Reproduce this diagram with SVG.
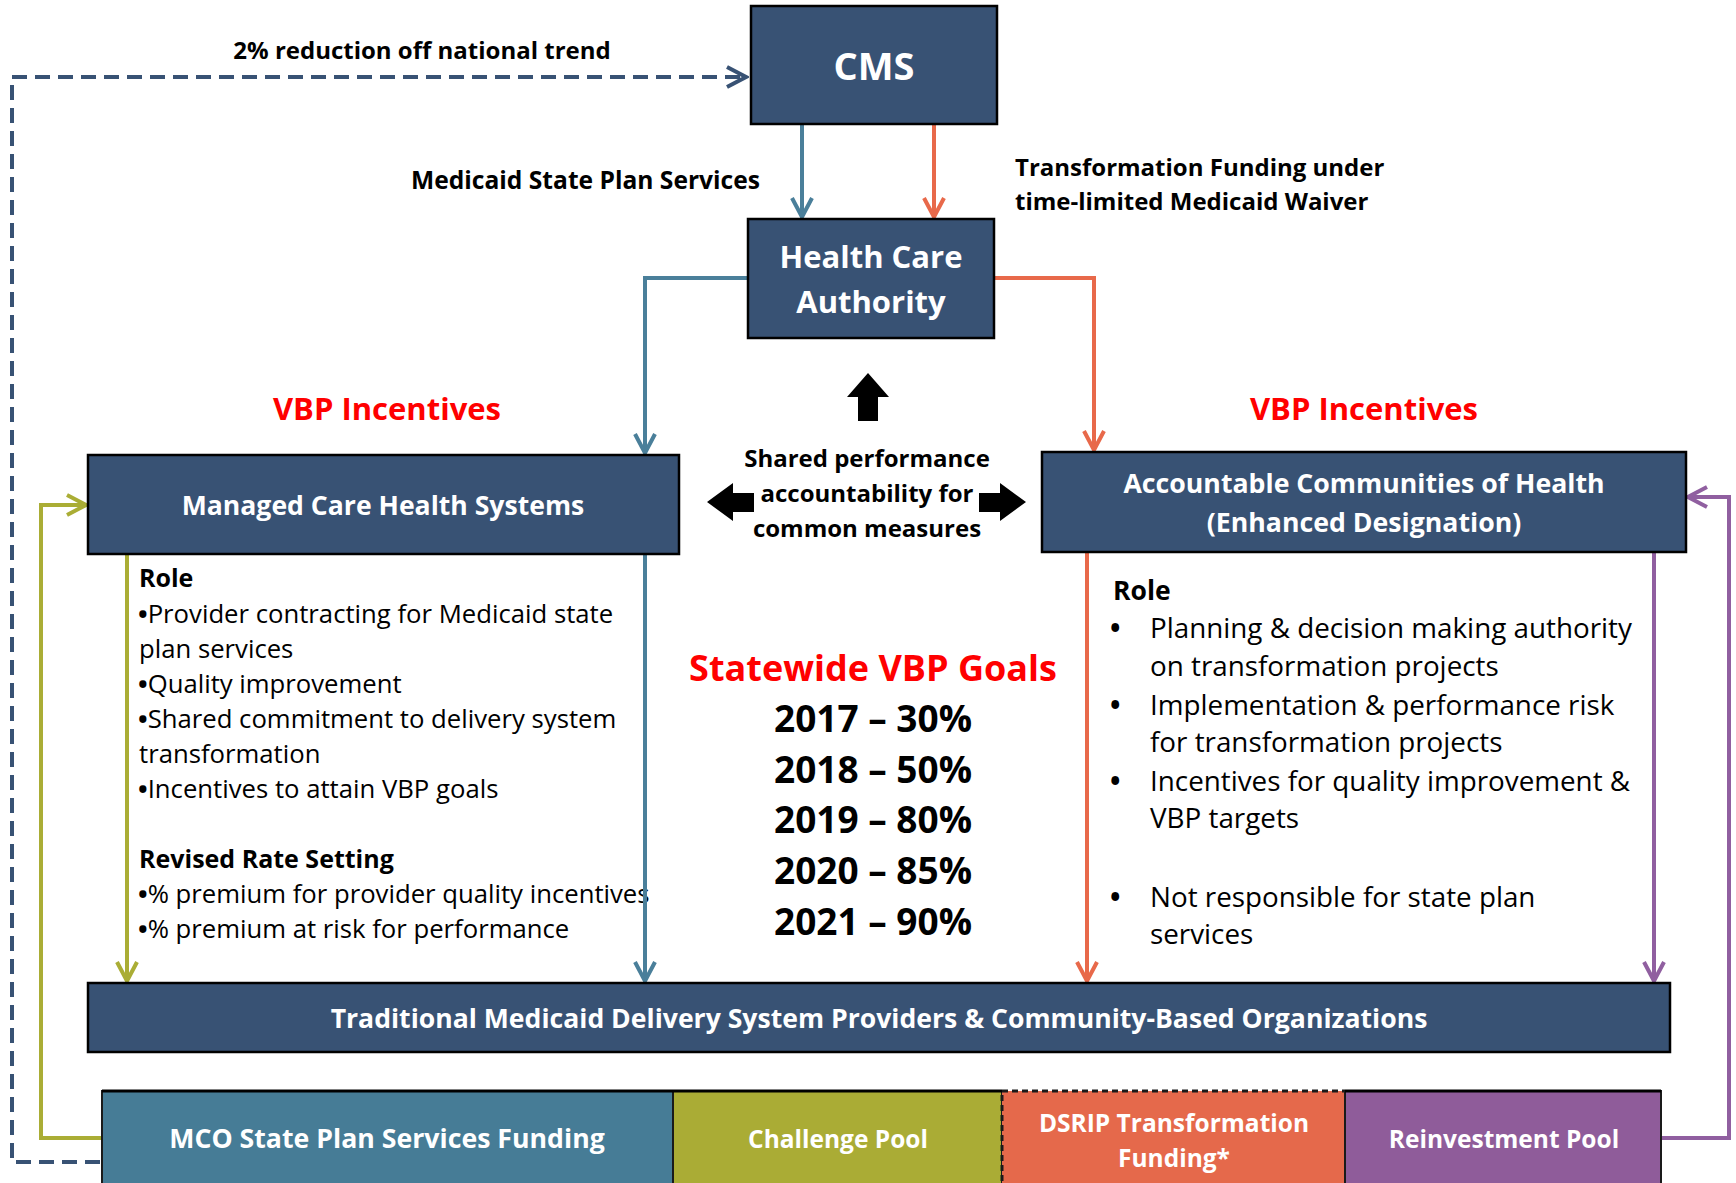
<svg xmlns="http://www.w3.org/2000/svg" width="1736" height="1183" viewBox="0 0 1736 1183">
<style>
.box{fill:#385274;stroke:#000;stroke-width:2.5}
.wt{fill:#fff;font-family:"Open Sans","Liberation Sans",sans-serif;font-weight:700;text-anchor:middle}
.bk{fill:#000;font-family:"Open Sans","Liberation Sans",sans-serif;font-weight:700}
.rg{fill:#000;font-family:"Open Sans","Liberation Sans",sans-serif;font-weight:400;font-size:25.7px}
.bu{font-weight:700}
.red{fill:#ff0000;font-family:"Open Sans","Liberation Sans",sans-serif;font-weight:700;text-anchor:middle}
.ln{fill:none;stroke-width:4;stroke-linejoin:miter}
</style>
<defs>
<marker id="aBlue" markerUnits="userSpaceOnUse" markerWidth="26" markerHeight="26" viewBox="0 0 26 26" refX="23" refY="13" orient="auto"><path d="M4,3 L23,13 L4,23" fill="none" stroke="#4a7f9a" stroke-width="4"/></marker>
<marker id="aOr" markerUnits="userSpaceOnUse" markerWidth="26" markerHeight="26" viewBox="0 0 26 26" refX="23" refY="13" orient="auto"><path d="M4,3 L23,13 L4,23" fill="none" stroke="#e8694a" stroke-width="4"/></marker>
<marker id="aOl" markerUnits="userSpaceOnUse" markerWidth="26" markerHeight="26" viewBox="0 0 26 26" refX="23" refY="13" orient="auto"><path d="M4,3 L23,13 L4,23" fill="none" stroke="#aaad35" stroke-width="4"/></marker>
<marker id="aPu" markerUnits="userSpaceOnUse" markerWidth="26" markerHeight="26" viewBox="0 0 26 26" refX="23" refY="13" orient="auto"><path d="M4,3 L23,13 L4,23" fill="none" stroke="#905fa0" stroke-width="4"/></marker>
<marker id="aDk" markerUnits="userSpaceOnUse" markerWidth="26" markerHeight="26" viewBox="0 0 26 26" refX="23" refY="13" orient="auto"><path d="M4,3 L23,13 L4,23" fill="none" stroke="#385274" stroke-width="4"/></marker>
</defs>
<rect width="1736" height="1183" fill="#fff"/>

<g id="connectors">
<path class="ln" d="M100,1162 H12 V77 H746" stroke="#385274" stroke-dasharray="15,8" marker-end="url(#aDk)"/>
<path class="ln" d="M802,124 V217" stroke="#4a7f9a" marker-end="url(#aBlue)"/>
<path class="ln" d="M934,124 V217" stroke="#e8694a" marker-end="url(#aOr)"/>
<path class="ln" d="M748,278 H645 V453" stroke="#4a7f9a" marker-end="url(#aBlue)"/>
<path class="ln" d="M994,278 H1094 V450" stroke="#e8694a" marker-end="url(#aOr)"/>
<path class="ln" d="M127,554 V981" stroke="#aaad35" marker-end="url(#aOl)"/>
<path class="ln" d="M1087,552 V981" stroke="#e8694a" marker-end="url(#aOr)"/>
<path class="ln" d="M1654,552 V981" stroke="#905fa0" marker-end="url(#aPu)"/>
<path class="ln" d="M102,1138 H41 V505 H86" stroke="#aaad35" marker-end="url(#aOl)"/>
<path class="ln" d="M1661,1138 H1729 V497 H1688" stroke="#905fa0" marker-end="url(#aPu)"/>
<polygon points="868,373 889,397 878,397 878,421 858,421 858,397 847,397" fill="#000"/>
<polygon points="707,502 733,483 733,493 754,493 754,512 733,512 733,521" fill="#000"/>
<polygon points="1026,502 1000,483 1000,493 979,493 979,512 1000,512 1000,521" fill="#000"/>
</g>

<g id="labels">
<text class="bk" x="422" y="59" font-size="24" text-anchor="middle">2% reduction off national trend</text>
<text class="bk" x="760" y="189" font-size="24.6" text-anchor="end">Medicaid State Plan Services</text>
<text class="bk" x="1015" y="176" font-size="24">Transformation Funding under</text>
<text class="bk" x="1015" y="210" font-size="24">time-limited Medicaid Waiver</text>
<text class="red" x="387" y="420" font-size="31">VBP Incentives</text>
<text class="red" x="1364" y="420" font-size="31">VBP Incentives</text>
<text class="bk" x="867" y="467" font-size="24" text-anchor="middle">Shared performance</text>
<text class="bk" x="867" y="502" font-size="24" text-anchor="middle">accountability for</text>
<text class="bk" x="867" y="537" font-size="24" text-anchor="middle">common measures</text>
</g>

<g id="goals">
<text class="red" x="873" y="681" font-size="36">Statewide VBP Goals</text>
<text class="bk" x="873" y="732" font-size="37" text-anchor="middle">2017 – 30%</text>
<text class="bk" x="873" y="783" font-size="37" text-anchor="middle">2018 – 50%</text>
<text class="bk" x="873" y="833" font-size="37" text-anchor="middle">2019 – 80%</text>
<text class="bk" x="873" y="884" font-size="37" text-anchor="middle">2020 – 85%</text>
<text class="bk" x="873" y="935" font-size="37" text-anchor="middle">2021 – 90%</text>
</g>

<g id="mchs-role">
<text class="bk" x="139" y="587" font-size="25">Role</text>
<text class="rg" x="138" y="623"><tspan class="bu">•</tspan>Provider contracting for Medicaid state</text>
<text class="rg" x="139" y="658">plan services</text>
<text class="rg" x="138" y="693"><tspan class="bu">•</tspan>Quality improvement</text>
<text class="rg" x="138" y="728"><tspan class="bu">•</tspan>Shared commitment to delivery system</text>
<text class="rg" x="139" y="763">transformation</text>
<text class="rg" x="138" y="798"><tspan class="bu">•</tspan>Incentives to attain VBP goals</text>
<text class="bk" x="139" y="868" font-size="25">Revised Rate Setting</text>
<text class="rg" x="138" y="903"><tspan class="bu">•</tspan>% premium for provider quality incentives</text>
<text class="rg" x="138" y="938"><tspan class="bu">•</tspan>% premium at risk for performance</text>
</g>

<g id="ach-role" font-family="'Open Sans','Liberation Sans',sans-serif" font-size="27.8">
<text class="bk" x="1113" y="600" font-size="26.5">Role</text>
<g fill="#000">
<text x="1110" y="638" font-weight="700">•</text>
<text x="1150" y="638">Planning &amp; decision making authority</text>
<text x="1150" y="676">on transformation projects</text>
<text x="1110" y="715" font-weight="700">•</text>
<text x="1150" y="715">Implementation &amp; performance risk</text>
<text x="1150" y="752">for transformation projects</text>
<text x="1110" y="791" font-weight="700">•</text>
<text x="1150" y="791">Incentives for quality improvement &amp;</text>
<text x="1150" y="828">VBP targets</text>
<text x="1110" y="907" font-weight="700">•</text>
<text x="1150" y="907">Not responsible for state plan</text>
<text x="1150" y="944">services</text>
</g>
</g>

<path class="ln" d="M645,554 V981" stroke="#4a7f9a" marker-end="url(#aBlue)"/>

<g id="cms">
<rect class="box" x="751" y="6" width="246" height="118"/>
<text class="wt" x="874" y="80" font-size="38">CMS</text>
</g>
<g id="hca">
<rect class="box" x="748" y="219" width="246" height="119"/>
<text class="wt" x="871" y="268" font-size="31">Health Care</text>
<text class="wt" x="871" y="313" font-size="31">Authority</text>
</g>
<g id="mchs">
<rect class="box" x="88" y="455" width="591" height="99"/>
<text class="wt" x="383" y="515" font-size="26.6">Managed Care Health Systems</text>
</g>
<g id="ach">
<rect class="box" x="1042" y="452" width="644" height="100"/>
<text class="wt" x="1364" y="493" font-size="26.7">Accountable Communities of Health</text>
<text class="wt" x="1364" y="532" font-size="26.7">(Enhanced Designation)</text>
</g>
<g id="tmds">
<rect class="box" x="88" y="983" width="1582" height="69"/>
<text class="wt" x="879" y="1028" font-size="26.6">Traditional Medicaid Delivery System Providers &amp; Community-Based Organizations</text>
</g>

<g id="mco">
<rect x="102" y="1091" width="571" height="100" fill="#467c96" stroke="#1a1a1a" stroke-width="2"/>
<text class="wt" x="387" y="1148" font-size="26.7">MCO State Plan Services Funding</text>
</g>
<g id="challenge">
<rect x="673" y="1091" width="329" height="100" fill="#aaac35" stroke="#1a1a1a" stroke-width="2"/>
<text class="wt" x="838" y="1148" font-size="24.5">Challenge Pool</text>
</g>
<g id="dsrip">
<rect x="1002" y="1091" width="343" height="100" fill="#e5694b"/>
<path d="M1002,1191 V1091 H1345" fill="none" stroke="#1a1a1a" stroke-width="3" stroke-dasharray="6,4"/>
<text class="wt" x="1174" y="1132" font-size="24.5">DSRIP Transformation</text>
<text class="wt" x="1174" y="1167" font-size="24.5">Funding*</text>
</g>
<g id="reinvest">
<rect x="1345" y="1091" width="316" height="100" fill="#8f5c9a" stroke="#1a1a1a" stroke-width="2"/>
<text class="wt" x="1504" y="1148" font-size="24.5">Reinvestment Pool</text>
</g>
<path d="M102,1091 H1002 M1345,1091 H1661" stroke="#000" stroke-width="3"/>
</svg>
